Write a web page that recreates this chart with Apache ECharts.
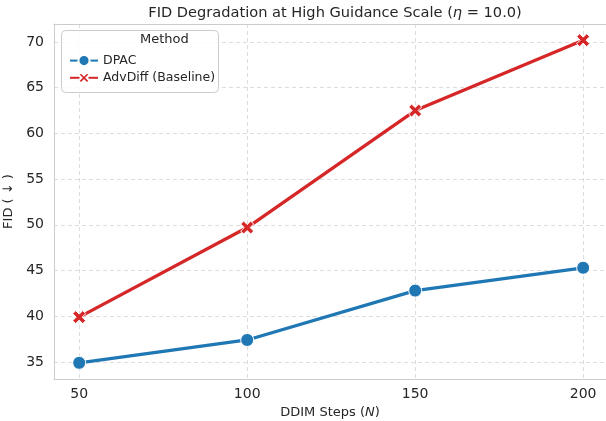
<!DOCTYPE html>
<html>
<head>
<meta charset="utf-8">
<script src="https://cdn.jsdelivr.net/npm/echarts@6/dist/echarts.min.js"></script>
<style>html,body{margin:0;padding:0;background:#fff}#c{width:606px;height:421px}</style>
</head>
<body>
<div id="c"></div>
<script>
const steps = [50, 100, 150, 200];
const dpac = [34.9, 37.4, 42.8, 45.3];
const advdiff = [39.9, 49.7, 62.5, 70.2];
const xTicks = [50, 100, 150, 200];
const yTicks = [35, 40, 45, 50, 55, 60, 65, 70];

const FONT = 'DejaVu Sans';
const TXT = '#262626';
const chart = echarts.init(document.getElementById('c'), null, {renderer: 'canvas'});
const xPath = 'path://M0,2.3 L2.3,0 L5,2.7 L7.7,0 L10,2.3 L7.3,5 L10,7.7 L7.7,10 L5,7.3 L2.3,10 L0,7.7 L2.7,5 Z';
const spine = {show: true, lineStyle: {color: '#cccccc', width: 1}};

chart.setOption({
  backgroundColor: '#ffffff',
  animation: false,
  title: {
    text: '{a|FID Degradation at High Guidance Scale (}{i|η}{a| = 10.0)}',
    left: 330, top: 1, textAlign: 'center',
    textStyle: {
      fontWeight: 'normal',
      rich: {
        a: {fontFamily: FONT, fontSize: 14.6, color: TXT, fontWeight: 'normal'},
        i: {fontFamily: FONT, fontSize: 14.6, color: TXT, fontStyle: 'italic', fontWeight: 'normal'}
      }
    }
  },
  grid: {left: 54, right: 0, top: 24, bottom: 42, outerBoundsMode: 'none', containLabel: false,
         show: false},
  xAxis: [{
    type: 'value', min: 42.5, max: 206.8, position: 'bottom',
    name: '{a|DDIM Steps (}{i|N}{a|)}', nameLocation: 'middle', nameGap: 24,
    nameTextStyle: {rich: {
      a: {fontFamily: FONT, fontSize: 13, color: TXT},
      i: {fontFamily: FONT, fontSize: 13, color: TXT, fontStyle: 'italic'}
    }},
    axisLine: spine,
    axisTick: {show: false, customValues: xTicks},
    axisLabel: {customValues: xTicks, fontFamily: FONT, fontSize: 14, color: TXT, margin: 8},
    splitLine: {show: true, lineStyle: {color: '#dddddd', type: [4, 3], width: 1}}
  }, {
    type: 'value', min: 42.5, max: 206.8, position: 'top',
    axisLine: spine, axisTick: {show: false}, axisLabel: {show: false}, splitLine: {show: false}
  }],
  yAxis: {
    type: 'value', min: 33.13, max: 71.97,
    name: 'FID ( ↓ )', nameLocation: 'middle', nameGap: 31,
    nameTextStyle: {fontFamily: FONT, fontSize: 13, color: TXT},
    axisLine: spine,
    axisTick: {show: false, customValues: yTicks},
    axisLabel: {customValues: yTicks, fontFamily: FONT, fontSize: 14, color: TXT, margin: 10},
    splitLine: {show: true, lineStyle: {color: '#dddddd', type: [4, 3], width: 1}}
  },
  legend: {
    left: 64, top: 49, orient: 'vertical', itemGap: 4, z: 10,
    itemWidth: 28, itemHeight: 14,
    textStyle: {fontFamily: FONT, fontSize: 12.5, color: TXT},
    data: ['DPAC', 'AdvDiff (Baseline)']
  },
  graphic: [
    {type: 'rect', left: 61, top: 30, z: 3, shape: {width: 157, height: 62, r: 4},
     style: {fill: 'rgba(255,255,255,0.85)', stroke: '#cccccc', lineWidth: 1}},
    {type: 'text', left: 140, top: 33, z: 11,
     style: {text: 'Method', fontFamily: FONT, fontSize: 13, fill: TXT, textAlign: 'center'}}
  ],
  series: [
    {
      name: 'DPAC', type: 'line',
      data: steps.map((s, i) => [s, dpac[i]]),
      symbol: 'circle', symbolSize: 13,
      lineStyle: {color: '#1f77b4', width: 3.3},
      itemStyle: {color: '#1f77b4', borderColor: '#ffffff', borderWidth: 1}
    },
    {
      name: 'AdvDiff (Baseline)', type: 'line',
      data: steps.map((s, i) => [s, advdiff[i]]),
      symbol: xPath, symbolSize: 13,
      lineStyle: {color: '#d62728', width: 3.3},
      itemStyle: {color: '#d62728', borderColor: '#ffffff', borderWidth: 1}
    }
  ]
});
</script>
</body>
</html>
